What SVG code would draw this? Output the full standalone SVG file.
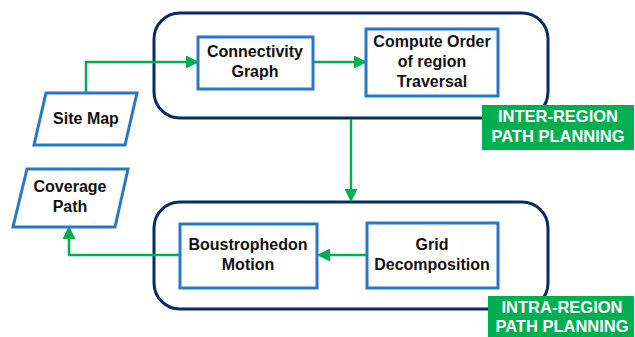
<svg xmlns="http://www.w3.org/2000/svg" width="635" height="337" viewBox="0 0 635 337">
<style>
.cont{fill:none;stroke:#0c2866;stroke-width:3}
.box{fill:#fff;stroke:#2878c8;stroke-width:3}
.lbl{fill:#00b050}
.t{font-family:"Liberation Sans",Arial,sans-serif;font-weight:bold;font-size:16px;fill:#111;text-anchor:middle}
.w{fill:#fff;font-size:16.5px}
.c{fill:none;stroke:#00b050;stroke-width:2.5}
</style>
<defs>
<marker id="ah" markerWidth="13" markerHeight="13" refX="11" refY="6.5" orient="auto" markerUnits="userSpaceOnUse">
<path d="M0,0 L13,6.5 L0,13 z" fill="#00b050"/>
</marker>
</defs>
<rect width="635" height="337" fill="#fff"/>
<g id="inter-container"><rect class="cont" x="154" y="13" width="394" height="105" rx="26"/></g>
<g id="intra-container"><rect class="cont" x="154" y="202" width="394" height="107" rx="26"/></g>
<g id="connectors">
<path class="c" d="M86,93 V62 H197" marker-end="url(#ah)"/>
<path class="c" d="M313,62 H365" marker-end="url(#ah)"/>
<path class="c" d="M351,119 V200" marker-end="url(#ah)"/>
<path class="c" d="M367,255 H319" marker-end="url(#ah)"/>
<path class="c" d="M180,255 H69 V228" marker-end="url(#ah)"/>
</g>
<g id="site-map">
<polygon class="box" points="46,93 137,93 125,145 34,145"/>
<text class="t" x="86" y="124">Site Map</text>
</g>
<g id="connectivity-graph">
<rect class="box" x="198" y="37" width="115" height="52"/>
<text class="t" x="255" y="57">Connectivity</text>
<text class="t" x="255" y="77">Graph</text>
</g>
<g id="compute-order">
<rect class="box" x="366" y="29" width="132" height="67"/>
<text class="t" x="432" y="47">Compute Order</text>
<text class="t" x="432" y="67">of region</text>
<text class="t" x="432" y="87">Traversal</text>
</g>
<g id="inter-label">
<rect class="lbl" x="482" y="105" width="152" height="45"/>
<text class="t w" x="558" y="122">INTER-REGION</text>
<text class="t w" x="558" y="142">PATH PLANNING</text>
</g>
<g id="coverage-path">
<polygon class="box" points="27,169 128,169 115,227 13,227"/>
<text class="t" x="70" y="192">Coverage</text>
<text class="t" x="70" y="212">Path</text>
</g>
<g id="boustrophedon">
<rect class="box" x="180" y="224" width="137" height="64"/>
<text class="t" x="248" y="250">Boustrophedon</text>
<text class="t" x="248" y="270">Motion</text>
</g>
<g id="grid-decomposition">
<rect class="box" x="367" y="223" width="131" height="65"/>
<text class="t" x="432" y="250">Grid</text>
<text class="t" x="432" y="270">Decomposition</text>
</g>
<g id="intra-label">
<rect class="lbl" x="488" y="296" width="146" height="41"/>
<text class="t w" x="562" y="313">INTRA-REGION</text>
<text class="t w" x="562" y="332">PATH PLANNING</text>
</g>
</svg>
